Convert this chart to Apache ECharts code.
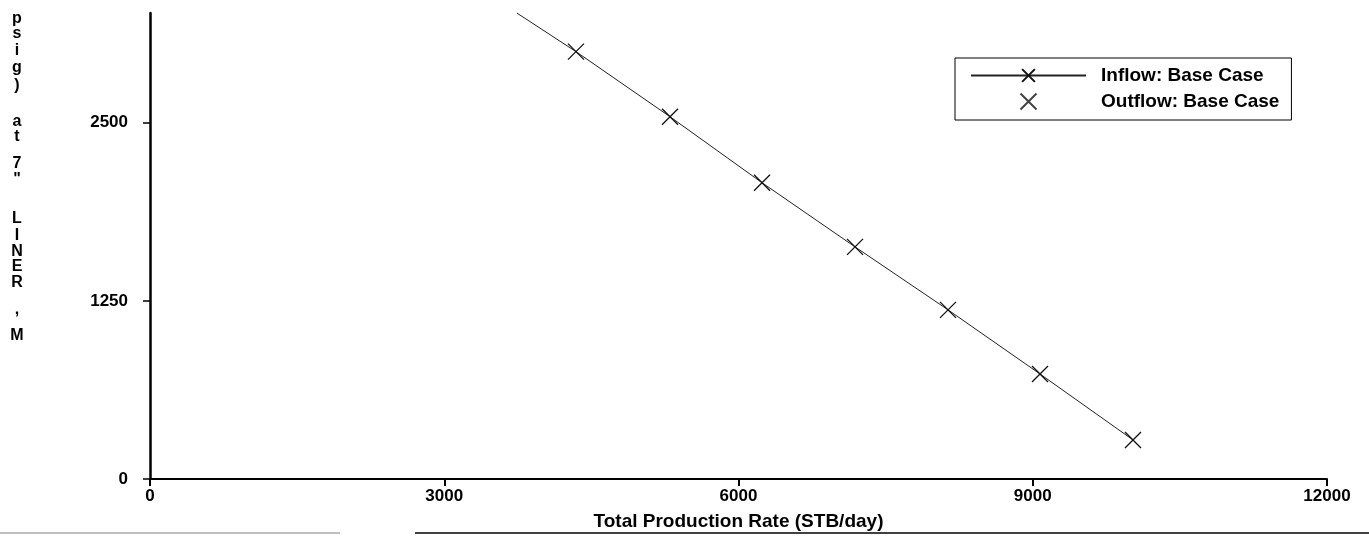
<!DOCTYPE html>
<html>
<head>
<meta charset="utf-8">
<script src="https://cdn.jsdelivr.net/npm/echarts@6/dist/echarts.min.js"></script>
<style>
html,body{margin:0;padding:0;background:#fff;}
#chart{width:1369px;height:536px;}
</style>
</head>
<body>
<div id="chart"></div>
<script>
// ---- data ----
const seriesNames = ['Inflow: Base Case', 'Outflow: Base Case'];
const inflowRate = [3740, 4343, 5302, 6240, 7188, 8136, 9074, 10022];
const inflowPressure = [3270, 2999, 2542, 2079, 1629, 1187, 737, 274];
const inflowMarked = [false, true, true, true, true, true, true, true];
const outflowRate = [];
const outflowPressure = [];
const xTicks = [0, 3000, 6000, 9000, 12000];
const yTicks = [0, 1250, 2500];
const xTitle = 'Total Production Rate (STB/day)';
const yTitleChars = ['p','s','i','g',')','a','t','7','"','L','I','N','E','R',',','M'];

// ---- layout (not data) ----
const yTitleCenters = [19,34,51,68,86,122,137,164,180,219,236,252,267,283,310,336];

const chart = echarts.init(document.getElementById('chart'));
const xSym = 'path://M0,0L10,10M10,0L0,10';
const font = '"Liberation Sans", Arial, sans-serif';
const plain = v => String(v);

const inflowData = inflowRate.map((x, i) => (
  inflowMarked[i] ? { value: [x, inflowPressure[i]] } : { value: [x, inflowPressure[i]], symbol: 'none' }
));
const outflowData = outflowRate.map((x, i) => [x, outflowPressure[i]]);

const graphics = yTitleChars.map((c, i) => ({
  type: 'text',
  style: { text: c, x: 17, y: yTitleCenters[i], align: 'center', verticalAlign: 'middle',
           font: 'bold 16px ' + font, fill: '#000' }
}));
graphics.push({ type: 'line', shape: { x1: 0, y1: 533, x2: 340, y2: 533 }, style: { stroke: '#aaa', lineWidth: 1.5 } });
graphics.push({ type: 'line', shape: { x1: 415, y1: 533, x2: 1369, y2: 533 }, style: { stroke: '#000', lineWidth: 1.5 } });

chart.setOption({
  animation: false,
  backgroundColor: '#fff',
  grid: { left: 150, right: 42, top: 13, bottom: 57, containLabel: false },
  legend: {
    orient: 'vertical',
    left: 955, top: 58,
    padding: [8, 12, 9, 15],
    itemWidth: 115, itemHeight: 16, itemGap: 7,
    borderColor: '#000', borderWidth: 1,
    textStyle: { fontFamily: font, fontWeight: 'bold', fontSize: 19, lineHeight: 18, color: '#000', padding: [0, 0, 0, 10] },
    data: seriesNames
  },
  xAxis: {
    type: 'value', min: xTicks[0], max: xTicks[xTicks.length - 1], interval: 3000,
    name: xTitle, nameLocation: 'middle', nameGap: 33,
    nameTextStyle: { fontFamily: font, fontWeight: 'bold', fontSize: 19, color: '#000' },
    axisLine: { show: true, onZero: false, lineStyle: { color: '#000', width: 2 } },
    axisTick: { show: true, inside: false, length: 7, lineStyle: { color: '#000', width: 2 } },
    axisLabel: { margin: 9, formatter: plain, fontFamily: font, fontWeight: 'bold', fontSize: 17, color: '#000' },
    splitLine: { show: false }
  },
  yAxis: {
    type: 'value', min: yTicks[0], max: 3270, interval: 1250,
    axisLine: { show: true, onZero: false, lineStyle: { color: '#000', width: 2.5 } },
    axisTick: { show: true, inside: false, length: 7, lineStyle: { color: '#000', width: 1.5 } },
    axisLabel: { margin: 22, showMaxLabel: false, formatter: plain, fontFamily: font, fontWeight: 'bold', fontSize: 17, color: '#000' },
    splitLine: { show: false }
  },
  graphic: graphics,
  series: [
    {
      name: seriesNames[0], type: 'line', data: inflowData,
      symbol: xSym, symbolSize: 16, showSymbol: true,
      lineStyle: { color: '#222', width: 1 },
      itemStyle: { color: 'transparent', borderColor: '#111', borderWidth: 1.3 },
      clip: true
    },
    {
      name: seriesNames[1], type: 'scatter', data: outflowData,
      symbol: xSym, symbolSize: 16,
      itemStyle: { color: 'transparent', borderColor: '#111', borderWidth: 1.3 }
    }
  ]
});
</script>
</body>
</html>
